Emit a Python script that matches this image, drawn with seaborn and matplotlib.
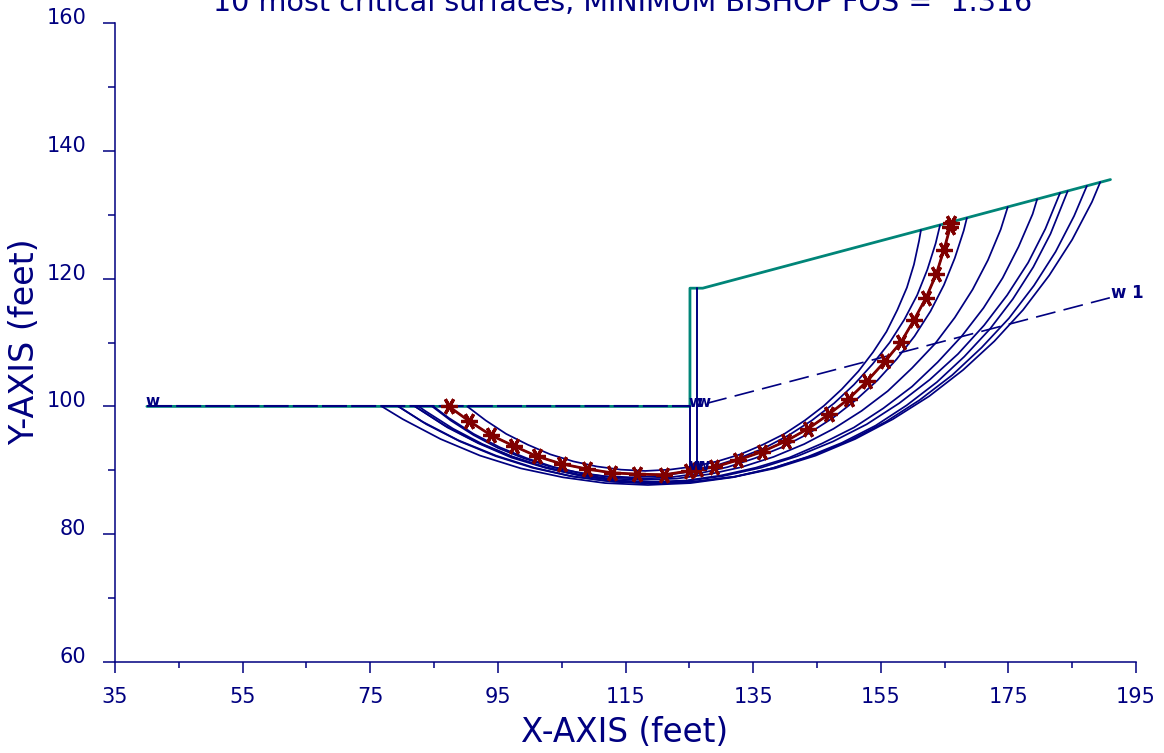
import matplotlib
matplotlib.use("Agg")
import matplotlib.pyplot as plt
from matplotlib.transforms import ScaledTranslation
import seaborn as sns

NAVY = "#000080"
TEAL = "#008578"
DARK_RED = "#800000"

x_major = [35, 55, 75, 95, 115, 135, 155, 175, 195]
x_minor = [45, 65, 85, 105, 125, 145, 165, 185]
y_major = [60, 80, 100, 120, 140, 160]
y_minor = [70, 90, 110, 130, 150]

ground_x = [40.0, 125.1, 125.1, 127.1, 191.0]
ground_y = [100.0, 100.0, 118.5, 118.5, 135.5]

water_x = [40.0, 125.1]
water_y = [100.0, 100.0]
piezo_x = [127.8, 190.9]
piezo_y = [100.5, 117.0]

wall1_x = [125.1, 125.1]
wall1_y = [100.0, 90.2]
wall2_x = [126.2, 126.2]
wall2_y = [118.5, 90.2]

# trial surfaces
surf1_x = [90.2, 93.1, 96.3, 99.7, 103.2, 106.8, 110.5, 114.3, 118.1, 121.9, 125.7, 129.4, 133.0, 136.5,
           139.9, 143.1, 146.1, 148.9, 151.5, 153.8, 155.9, 157.6, 159.1, 160.2, 161.0, 161.3]
surf1_y = [100.0, 97.8, 95.7, 94.0, 92.5, 91.4, 90.6, 90.1, 89.9, 90.1, 90.6, 91.4, 92.5, 94.0,
           95.7, 97.8, 100.1, 102.7, 105.5, 108.5, 111.7, 115.1, 118.6, 122.2, 125.9, 127.6]
surf2_x = [84.7, 87.6, 91.2, 95.0, 99.0, 103.1, 107.3, 111.6, 115.9, 120.2, 124.5, 128.7, 132.8, 136.8,
           140.6, 144.2, 147.7, 150.8, 153.7, 156.4, 158.7, 160.7, 162.3, 163.6, 164.3]
surf2_y = [100.0, 97.8, 95.5, 93.5, 91.9, 90.6, 89.7, 89.1, 88.9, 89.1, 89.7, 90.6, 91.9, 93.5,
           95.5, 97.8, 100.5, 103.4, 106.6, 110.0, 113.6, 117.4, 121.4, 125.5, 128.4]
surf3_x = [84.9, 87.3, 91.2, 95.3, 99.5, 103.8, 108.3, 112.8, 117.4, 122.0, 126.5, 131.0, 135.3, 139.5,
           143.6, 147.5, 151.1, 154.5, 157.5, 160.3, 162.8, 164.9, 166.6, 168.0, 168.5]
surf3_y = [100.0, 98.2, 95.7, 93.6, 91.9, 90.5, 89.5, 88.9, 88.7, 88.9, 89.5, 90.5, 91.9, 93.6,
           95.7, 98.2, 101.0, 104.1, 107.4, 111.0, 114.9, 119.0, 123.2, 127.5, 129.5]
surf4_x = [82.6, 83.6, 88.0, 92.6, 97.4, 102.4, 107.5, 112.6, 117.8, 123.0, 128.2, 133.2, 138.2, 143.0,
           147.6, 152.0, 156.1, 159.9, 163.5, 166.6, 169.4, 171.8, 173.8, 174.9]
surf4_y = [100.0, 99.3, 96.5, 94.1, 92.1, 90.5, 89.4, 88.7, 88.5, 88.7, 89.4, 90.5, 92.1, 94.1,
           96.5, 99.3, 102.4, 106.0, 109.8, 113.9, 118.3, 122.9, 127.7, 131.2]
surf5_x = [82.0, 87.1, 92.0, 97.1, 102.4, 107.8, 113.4, 118.9, 124.5, 130.0, 135.4, 140.7, 145.8, 150.8,
           155.4, 159.9, 163.9, 167.7, 171.1, 174.1, 176.6, 178.8, 179.5]
surf5_y = [100.0, 96.7, 94.2, 92.0, 90.4, 89.2, 88.4, 88.2, 88.4, 89.2, 90.4, 92.0, 94.2, 96.7,
           99.7, 103.1, 106.9, 111.0, 115.4, 120.1, 125.0, 130.1, 132.4]
surf6_x = [79.4, 83.8, 89.1, 94.7, 100.4, 106.3, 112.3, 118.3, 124.3, 130.3, 136.2, 141.9, 147.5, 152.8,
           157.9, 162.7, 167.1, 171.2, 174.8, 178.1, 180.8, 183.1]
surf6_y = [100.0, 97.2, 94.5, 92.2, 90.4, 89.1, 88.3, 88.0, 88.3, 89.1, 90.4, 92.2, 94.5, 97.2,
           100.5, 104.2, 108.2, 112.7, 117.4, 122.5, 127.8, 133.4]
surf7_x = [82.0, 86.7, 91.9, 97.3, 102.9, 108.7, 114.5, 120.4, 126.3, 132.1, 137.9, 143.5, 148.9, 154.2,
           159.1, 163.8, 168.1, 172.1, 175.7, 178.9, 181.6, 184.3]
surf7_y = [100.0, 97.0, 94.3, 92.1, 90.3, 89.0, 88.3, 88.0, 88.3, 89.0, 90.3, 92.1, 94.3, 97.0,
           100.2, 103.8, 107.8, 112.1, 116.8, 121.8, 127.0, 133.7]
surf8_x = [79.4, 83.2, 88.8, 94.7, 100.7, 106.9, 113.2, 119.5, 125.8, 132.1, 138.3, 144.3, 150.2, 155.8,
           161.1, 166.2, 170.8, 175.1, 179.0, 182.4, 185.3, 187.3]
surf8_y = [100.0, 97.6, 94.7, 92.3, 90.4, 89.0, 88.2, 87.9, 88.2, 89.0, 90.4, 92.3, 94.7, 97.6,
           101.0, 104.9, 109.2, 113.8, 118.9, 124.2, 129.8, 134.5]
surf9_x = [76.8, 80.1, 86.0, 92.2, 98.6, 105.2, 111.8, 118.5, 125.2, 131.8, 138.4, 144.8, 151.0, 156.9,
           162.6, 167.9, 172.8, 177.3, 181.4, 185.0, 188.1, 189.4]
surf9_y = [100.0, 98.0, 94.9, 92.3, 90.3, 88.9, 88.0, 87.7, 88.0, 88.9, 90.3, 92.3, 94.9, 98.0,
           101.6, 105.7, 110.2, 115.1, 120.5, 126.1, 132.0, 135.1]

# most critical surface, one point per slice
crit_x = [87.3, 90.5, 93.9, 97.5, 101.1, 105.0, 109.0, 112.9, 116.8, 121.0, 125.0, 126.4, 128.9,
          132.6, 136.4, 140.2, 143.6, 146.9, 150.0, 152.9, 155.7, 158.2, 160.2, 162.1, 163.7,
          164.9, 165.9, 166.0]
crit_y = [100.0, 97.7, 95.5, 93.8, 92.2, 91.0, 90.2, 89.6, 89.4, 89.3, 89.9, 90.2, 90.5,
          91.6, 92.9, 94.6, 96.5, 98.8, 101.2, 104.0, 107.1, 110.1, 113.5, 117.0, 120.7,
          124.5, 128.1, 128.7]

surfaces = [
    (surf1_x, surf1_y), (surf2_x, surf2_y), (surf3_x, surf3_y),
    (surf4_x, surf4_y), (surf5_x, surf5_y), (surf6_x, surf6_y),
    (surf7_x, surf7_y), (surf8_x, surf8_y), (surf9_x, surf9_y),
    (crit_x, crit_y),
]

sns.set_style("white")
fig = plt.figure(figsize=(11.64, 7.53), dpi=100)
ax = fig.add_axes([115 / 1164, 1 - 662 / 753, 1021 / 1164, 639 / 753])


def draw(x, y, color, lw, dashes=None, **kws):
    sns.lineplot(x=x, y=y, sort=False, estimator=None, errorbar=None,
                 color=color, linewidth=lw, ax=ax, **kws)
    if dashes:
        ax.lines[-1].set_dashes(dashes)


draw(ground_x, ground_y, TEAL, 2.0)
draw(water_x, water_y, NAVY, 1.5, dashes=(12, 2))
draw(piezo_x, piezo_y, NAVY, 1.2, dashes=(12, 5))
draw(wall1_x, wall1_y, NAVY, 1.4)
draw(wall2_x, wall2_y, NAVY, 1.4)
for sx, sy in surfaces:
    draw(sx, sy, NAVY, 1.25)
draw(crit_x, crit_y, DARK_RED, 2.0, marker=(6, 2, 90), markersize=12,
     markeredgewidth=2.3, markeredgecolor=DARK_RED)

# water table tags
for wx, wy in [(40.9, 100.0), (125.9, 99.9), (127.2, 99.9), (125.9, 90.0), (127.1, 90.0)]:
    ax.text(wx, wy, "w", color=NAVY, fontsize=11, fontweight="bold", ha="center", va="baseline")
ax.text(191.1, 117.0, "w 1", color=NAVY, fontsize=12, fontweight="bold", ha="left", va="baseline")

ax.set_xlim(35, 195)
ax.set_ylim(60, 160)
ax.set_xticks(x_major)
ax.set_xticks(x_minor, minor=True)
ax.set_yticks(y_major)
ax.set_yticks(y_minor, minor=True)
ax.tick_params(axis="x", which="major", direction="out", length=8.2, width=1.1, color=NAVY,
               labelcolor=NAVY, labelsize=15, pad=10, bottom=True)
ax.tick_params(axis="y", which="major", direction="out", length=8.6, width=1.1, color=NAVY,
               labelcolor=NAVY, labelsize=15, pad=12, left=True)
ax.tick_params(axis="x", which="minor", direction="out", length=4, width=1.1, color=NAVY, bottom=True)
ax.tick_params(axis="y", which="minor", direction="out", length=4.8, width=1.1, color=NAVY, left=True)

# y tick labels sit a little above their ticks
lift = ScaledTranslation(0, 7 / 100, fig.dpi_scale_trans)
for lab in ax.get_yticklabels():
    lab.set_transform(lab.get_transform() + lift)

for name in ["top", "right"]:
    ax.spines[name].set_visible(False)
for name in ["left", "bottom"]:
    ax.spines[name].set_color(NAVY)
    ax.spines[name].set_linewidth(1.1)

ax.set_xlabel("")
ax.set_ylabel("")
fig.text(624.5 / 1164, 1 - 742 / 753, "X-AXIS (feet)", color=NAVY, fontsize=23.5, ha="center", va="baseline")
fig.text(25 / 1164, 1 - 342 / 753, "Y-AXIS (feet)", color=NAVY, fontsize=24, rotation=90,
         ha="center", va="center")
fig.text(623 / 1164, 1 - 11.5 / 753, "10 most critical surfaces, MINIMUM BISHOP FOS =  1.316",
         color=NAVY, fontsize=20.6, ha="center", va="baseline")

fig.savefig("out.png", dpi=100)
